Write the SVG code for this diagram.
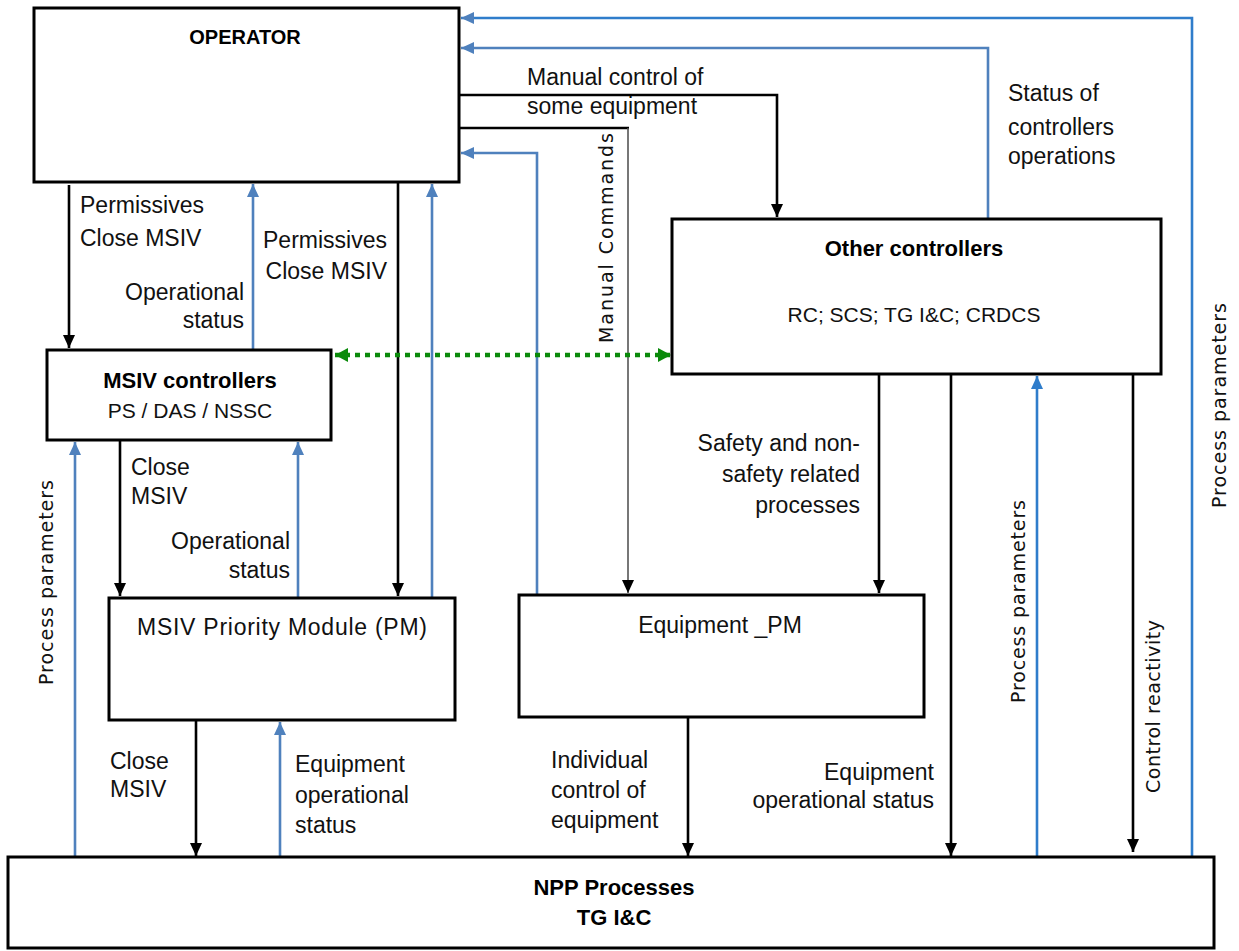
<svg xmlns="http://www.w3.org/2000/svg" width="1239" height="951" viewBox="0 0 1239 951">
  <style>
    .box { fill: #ffffff; stroke: #000000; stroke-width: 3; }
    .t { font-family: "Liberation Sans", Arial, sans-serif; font-size: 23px; fill: #111111; }
    .caps { font-size: 21px; }
    .b { font-family: "Liberation Sans", Arial, sans-serif; font-size: 22px; font-weight: bold; fill: #000000; }
    .v { font-family: "DejaVu Sans", Verdana, sans-serif; font-size: 19px; fill: #111111; }
    .mid { text-anchor: middle; }
    .end { text-anchor: end; }
    .k { fill: none; stroke: #000000; stroke-width: 2.6; }
    .g { fill: none; stroke: #555555; stroke-width: 1.6; }
    .bl { fill: none; stroke: #4f81bd; stroke-width: 2.6; }
    .bl2 { fill: none; stroke: #2f7dcb; stroke-width: 2.6; }
    .dot { fill: none; stroke: #0a8a0a; stroke-width: 4.5; stroke-dasharray: 5 5; }
  </style>
  <defs>
    <marker id="ak" markerUnits="userSpaceOnUse" markerWidth="14" markerHeight="12" refX="13" refY="6" orient="auto">
      <path d="M0,0 L13,6 L0,12 z" fill="#000000"/>
    </marker>
    <marker id="ab" markerUnits="userSpaceOnUse" markerWidth="14" markerHeight="12" refX="13" refY="6" orient="auto">
      <path d="M0,0 L13,6 L0,12 z" fill="#4f81bd"/>
    </marker>
    <marker id="ab2" markerUnits="userSpaceOnUse" markerWidth="14" markerHeight="12" refX="13" refY="6" orient="auto">
      <path d="M0,0 L13,6 L0,12 z" fill="#2f7dcb"/>
    </marker>
    <marker id="ag" markerUnits="userSpaceOnUse" markerWidth="14" markerHeight="14" refX="13" refY="7" orient="auto-start-reverse">
      <path d="M0,0 L13,7 L0,14 z" fill="#0a8a0a"/>
    </marker>
  </defs>

  <!-- connectors -->
  <g id="connectors">
    <path class="bl2" d="M1192,857 V18 H461" marker-end="url(#ab)"/>
    <path class="bl" d="M988,219 V48 H461" marker-end="url(#ab)"/>
    <path class="k" d="M459,95 H777 V217" marker-end="url(#ak)"/>
    <path class="k" d="M459,128 H629"/>
    <path class="g" d="M628,128 V593" marker-end="url(#ak)"/>
    <path class="bl" d="M537,594 V153 H461" marker-end="url(#ab)"/>
    <path class="k" d="M69,185 V348" marker-end="url(#ak)"/>
    <path class="bl" d="M253,350 V184" marker-end="url(#ab)"/>
    <path class="k" d="M398,182 V596" marker-end="url(#ak)"/>
    <path class="bl" d="M432,598 V184" marker-end="url(#ab)"/>
    <path class="dot" d="M335,355 H671" marker-start="url(#ag)" marker-end="url(#ag)"/>
    <path class="bl" d="M75,857 V442" marker-end="url(#ab)"/>
    <path class="k" d="M120,440 V596" marker-end="url(#ak)"/>
    <path class="bl" d="M298,598 V442" marker-end="url(#ab)"/>
    <path class="k" d="M196,720 V856" marker-end="url(#ak)"/>
    <path class="bl" d="M280,857 V722" marker-end="url(#ab)"/>
    <path class="k" d="M879,374 V593" marker-end="url(#ak)"/>
    <path class="k" d="M688,717 V856" marker-end="url(#ak)"/>
    <path class="k" d="M951,374 V856" marker-end="url(#ak)"/>
    <path class="bl2" d="M1037,857 V376" marker-end="url(#ab2)"/>
    <path class="k" d="M1133,374 V852" marker-end="url(#ak)"/>
  </g>

  <!-- connector labels -->
  <g id="labels">
    <text class="t" x="527" y="85">Manual control of</text>
    <text class="t" x="527" y="114">some equipment</text>
    <text class="t" x="1008" y="101">Status of</text>
    <text class="t" x="1008" y="135">controllers</text>
    <text class="t" x="1008" y="164">operations</text>
    <text class="t" x="80" y="213">Permissives</text>
    <text class="t" x="80" y="246">Close MSIV</text>
    <text class="t end" x="387" y="248">Permissives</text>
    <text class="t end" x="387" y="279">Close MSIV</text>
    <text class="t end" x="244" y="300">Operational</text>
    <text class="t end" x="244" y="328">status</text>
    <text class="t" x="131" y="475">Close</text>
    <text class="t" x="131" y="504">MSIV</text>
    <text class="t end" x="290" y="549">Operational</text>
    <text class="t end" x="290" y="578">status</text>
    <text class="t end" x="860" y="451">Safety and non-</text>
    <text class="t end" x="860" y="482">safety related</text>
    <text class="t end" x="860" y="513">processes</text>
    <text class="t" x="110" y="769">Close</text>
    <text class="t" x="110" y="797">MSIV</text>
    <text class="t" x="295" y="772">Equipment</text>
    <text class="t" x="295" y="803">operational</text>
    <text class="t" x="295" y="833">status</text>
    <text class="t" x="551" y="768">Individual</text>
    <text class="t" x="551" y="798">control of</text>
    <text class="t" x="551" y="828">equipment</text>
    <text class="t end" x="934" y="780">Equipment</text>
    <text class="t end" x="934" y="808">operational status</text>
    <text class="v" transform="translate(613,343) rotate(-90)" textLength="210">Manual Commands</text>
    <text class="v" transform="translate(53,685) rotate(-90)" textLength="205">Process parameters</text>
    <text class="v" transform="translate(1025,703) rotate(-90)" textLength="203">Process parameters</text>
    <text class="v" transform="translate(1160,793) rotate(-90)" textLength="173">Control reactivity</text>
    <text class="v" transform="translate(1226,508) rotate(-90)" textLength="205">Process parameters</text>
  </g>

  <!-- nodes -->
  <g id="operator">
    <rect class="box" x="34" y="8" width="425" height="174"/>
    <text class="b mid" x="245" y="44" style="font-size:20px">OPERATOR</text>
  </g>
  <g id="msiv-controllers">
    <rect class="box" x="47" y="350" width="284" height="90"/>
    <text class="b mid" x="190" y="388">MSIV controllers</text>
    <text class="t caps mid" x="190" y="418">PS / DAS / NSSC</text>
  </g>
  <g id="other-controllers">
    <rect class="box" x="672" y="219" width="489" height="155"/>
    <text class="b mid" x="914" y="256">Other controllers</text>
    <text class="t caps mid" x="914" y="322">RC; SCS; TG I&amp;C; CRDCS</text>
  </g>
  <g id="msiv-priority-module">
    <rect class="box" x="109" y="598" width="346" height="122"/>
    <text class="t mid" x="282" y="635" textLength="290">MSIV Priority Module (PM)</text>
  </g>
  <g id="equipment-pm">
    <rect class="box" x="519" y="595" width="405" height="122"/>
    <text class="t mid" x="720" y="633">Equipment _PM</text>
  </g>
  <g id="npp-processes">
    <rect class="box" x="8" y="857" width="1206" height="91"/>
    <text class="b mid" x="614" y="895">NPP Processes</text>
    <text class="b mid" x="614" y="925">TG I&amp;C</text>
  </g>
</svg>
